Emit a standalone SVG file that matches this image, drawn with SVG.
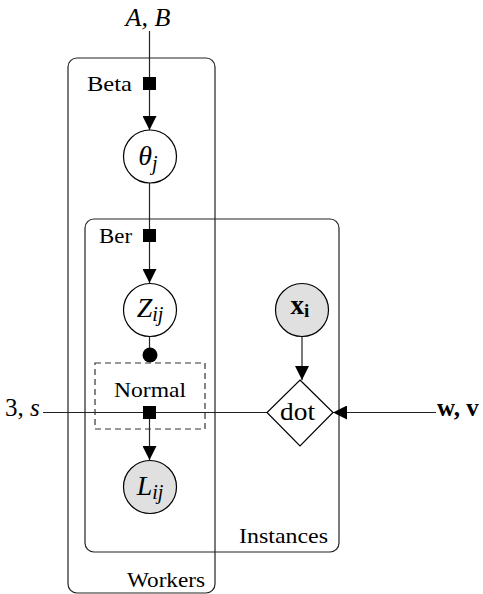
<svg xmlns="http://www.w3.org/2000/svg" width="483" height="594" viewBox="0 0 483 594">
<style>
.plate{fill:none;stroke:#222;stroke-width:1.2}
.ln{stroke:#222;stroke-width:1.2;fill:none}
.var{fill:#fff;stroke:#000;stroke-width:1.2}
.obs{fill:#e0e0e0;stroke:#000;stroke-width:1.2}
.fac{fill:#000}
text{font-family:"Liberation Serif","DejaVu Serif",serif;fill:#000}
.lab{font-size:22px}
.m{font-size:28px;font-style:italic}
.sub{font-size:20px;font-style:italic}
</style>
<defs>
<marker id="arr" markerUnits="userSpaceOnUse" markerWidth="14" markerHeight="14" viewBox="0 0 14 14" refX="14" refY="7" orient="auto">
<path d="M0,0 L14,7 L0,14 Z" fill="#000"/>
</marker>
</defs>
<g id="plates">
<rect id="workers" class="plate" x="68" y="58" width="147" height="535" rx="9"/>
<rect id="instances" class="plate" x="85" y="219" width="254" height="333" rx="9"/>
<text class="lab" x="127" y="587" textLength="78" lengthAdjust="spacingAndGlyphs">Workers</text>
<text class="lab" x="239" y="543" textLength="89" lengthAdjust="spacingAndGlyphs">Instances</text>
</g>
<g id="connectors">
<line class="ln" x1="149.5" y1="31" x2="149.5" y2="130" marker-end="url(#arr)"/>
<line class="ln" x1="149.5" y1="183" x2="149.5" y2="283" marker-end="url(#arr)"/>
<line class="ln" x1="149.5" y1="337" x2="149.5" y2="355"/>
<line class="ln" x1="43" y1="412.5" x2="267" y2="412.5"/>
<line class="ln" x1="149.5" y1="412" x2="149.5" y2="460" marker-end="url(#arr)"/>
<line class="ln" x1="302" y1="337" x2="302" y2="380" marker-end="url(#arr)"/>
<line class="ln" x1="436" y1="412.5" x2="333" y2="412.5" marker-end="url(#arr)"/>
</g>
<g id="factor-beta">
<rect class="fac" x="143" y="77" width="13" height="13"/>
<text class="lab" x="87" y="91" textLength="45" lengthAdjust="spacingAndGlyphs">Beta</text>
</g>
<g id="factor-ber">
<rect class="fac" x="143" y="229" width="13" height="13"/>
<text class="lab" x="99" y="243" textLength="33" lengthAdjust="spacingAndGlyphs">Ber</text>
</g>
<g id="theta">
<circle class="var" cx="150" cy="156.5" r="26.5"/>
<text x="148" y="165" text-anchor="middle"><tspan class="m">θ</tspan><tspan class="sub" dy="5">j</tspan></text>
</g>
<g id="Z">
<circle class="var" cx="150" cy="310" r="26.5"/>
<text x="150" y="317" text-anchor="middle"><tspan class="m">Z</tspan><tspan class="sub" dy="4">ij</tspan></text>
</g>
<g id="gate">
<circle cx="150" cy="355" r="7.5" fill="#000"/>
<rect x="95" y="363" width="110" height="66" fill="none" stroke="#333" stroke-width="1.2" stroke-dasharray="6,4"/>
<text class="lab" x="114" y="397" textLength="72" lengthAdjust="spacingAndGlyphs">Normal</text>
</g>
<g id="factor-normal">
<rect class="fac" x="143" y="406" width="13" height="13"/>
</g>
<g id="L">
<circle class="obs" cx="150" cy="487" r="26.5"/>
<text x="150" y="495" text-anchor="middle"><tspan class="m">L</tspan><tspan class="sub" dy="4">ij</tspan></text>
</g>
<g id="x">
<circle class="obs" cx="302" cy="310" r="26.5"/>
<text x="300" y="314" font-weight="bold" text-anchor="middle"><tspan font-size="27px">x</tspan><tspan font-size="19px" dy="3">i</tspan></text>
</g>
<g id="dot">
<polygon class="var" points="300,380 333,412.5 300,446 267,412.5"/>
<text x="280" y="420" font-size="26px" textLength="35" lengthAdjust="spacingAndGlyphs">dot</text>
</g>
<g id="inputs">
<text x="148" y="26" font-size="26px" font-style="italic" text-anchor="middle">A, B</text>
<text x="5" y="416" font-size="25px">3, <tspan font-style="italic">s</tspan></text>
<text x="437" y="416" font-size="25px" font-weight="bold">w, v</text>
</g>
</svg>
